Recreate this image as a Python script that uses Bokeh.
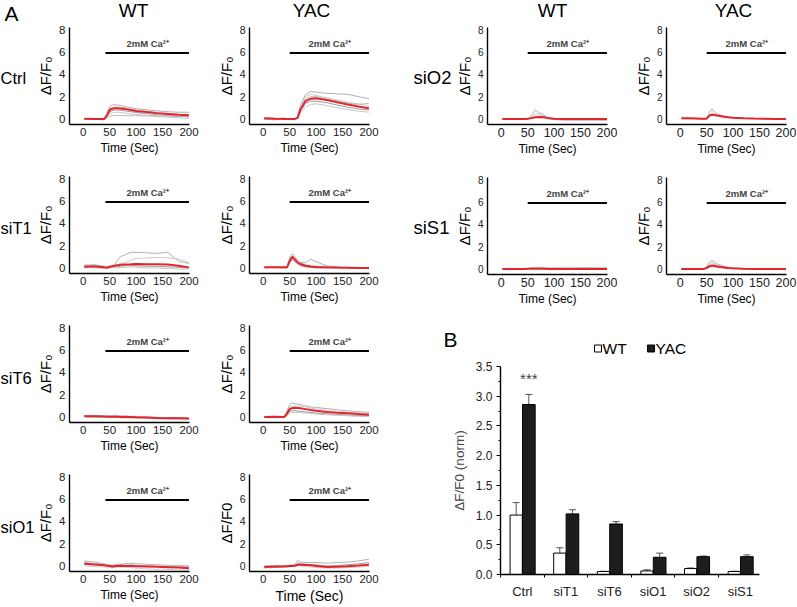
from bokeh.plotting import figure
from bokeh.models import (Range1d, FixedTicker, Label, ColumnDataSource, Whisker,
                          TeeHead, PrintfTickFormatter)
from bokeh.layouts import row, column
from bokeh.embed import file_html
from bokeh.resources import INLINE

FONT = "Liberation Sans"

# ---------------- data: Ca2+ imaging traces (dF/F0 vs time, s) ----------------
time_s = [2, 20, 40, 45, 50, 55, 60, 65, 70, 80, 90, 100, 120, 140, 160, 180, 200]
x_ticks = [0, 50, 100, 150, 200]
y_ticks = [0, 2, 4, 6, 8]
ca_label = "2mM Ca²⁺"
row_names = ["Ctrl", "siT1", "siT6", "siO1", "siO2", "siS1"]
col_names = ["WT", "YAC"]

ctrl_wt_ca = 42
ctrl_wt_mean = [0.02, 0.0, 0.0, 0.35, 0.8, 0.92, 0.95, 0.95, 0.93, 0.88, 0.8, 0.72, 0.62, 0.52, 0.45, 0.38, 0.33]
ctrl_wt_cells = [
    [0.05, 0.0, 0.0, 0.5, 1.1, 1.25, 1.28, 1.25, 1.2, 1.1, 1.0, 0.92, 0.82, 0.72, 0.65, 0.6, 0.6],
    [0.0, 0.05, 0.0, 0.4, 0.95, 1.05, 1.1, 1.08, 1.05, 0.98, 0.9, 0.8, 0.7, 0.6, 0.5, 0.42, 0.4],
    [0.0, -0.02, 0.0, 0.25, 0.6, 0.75, 0.8, 0.8, 0.78, 0.72, 0.65, 0.58, 0.48, 0.38, 0.3, 0.22, 0.2],
    [0.0, 0.0, 0.0, 0.15, 0.45, 0.55, 0.6, 0.6, 0.58, 0.52, 0.45, 0.4, 0.32, 0.22, 0.15, 0.1, 0.05],
    [0.0, 0.0, 0.0, 0.1, 0.25, 0.3, 0.3, 0.3, 0.3, 0.3, 0.3, 0.28, 0.28, 0.27, 0.27, 0.25, 0.25],
]

ctrl_yac_ca = 50
ctrl_yac_mean = [0.05, 0.02, 0.0, 0.0, 0.0, 0.0, 0.0, 0.1, 0.8, 1.6, 1.82, 1.85, 1.7, 1.5, 1.3, 1.12, 0.95]
ctrl_yac_cells = [
    [0.1, 0.05, 0.0, 0.0, 0.05, 0.0, 0.0, 0.2, 1.2, 2.2, 2.45, 2.4, 2.3, 2.25, 2.2, 2.0, 1.8],
    [0.0, 0.1, 0.05, 0.0, 0.0, 0.0, 0.05, 0.15, 1.0, 2.0, 2.2, 2.1, 1.9, 1.7, 1.5, 1.35, 1.2],
    [-0.05, 0.0, 0.0, 0.05, 0.0, 0.0, 0.0, 0.1, 0.7, 1.4, 1.6, 1.6, 1.45, 1.25, 1.05, 0.9, 0.8],
    [0.0, -0.1, 0.0, 0.0, 0.0, -0.05, 0.0, 0.05, 0.5, 1.1, 1.3, 1.35, 1.2, 1.0, 0.85, 0.7, 0.6],
    [0.05, 0.0, 0.1, 0.0, 0.0, 0.0, 0.0, 0.1, 0.9, 1.8, 2.0, 2.0, 1.8, 1.6, 1.4, 1.3, 1.4],
]

sit1_wt_ca = 42
sit1_wt_mean = [0.1, 0.15, 0.05, 0.02, 0.1, 0.15, 0.2, 0.25, 0.28, 0.3, 0.32, 0.35, 0.33, 0.32, 0.3, 0.2, 0.05]
sit1_wt_cells = [
    [0.2, 0.3, 0.15, 0.1, 0.15, 0.2, 0.3, 0.7, 1.0, 1.2, 1.4, 1.4, 1.35, 1.3, 1.4, 0.6, 0.4],
    [0.3, 0.25, 0.1, 0.05, 0.1, 0.2, 0.25, 0.3, 0.4, 0.5, 0.7, 0.85, 0.9, 0.95, 0.9, 0.8, 0.5],
    [0.0, 0.1, 0.0, 0.0, 0.05, 0.1, 0.1, 0.1, 0.15, 0.2, 0.2, 0.2, 0.15, 0.15, 0.1, 0.05, 0.0],
    [0.1, 0.0, -0.05, 0.0, 0.0, 0.0, 0.05, 0.0, 0.05, 0.05, 0.1, 0.05, 0.0, 0.0, -0.05, -0.1, -0.1],
]

sit1_yac_ca = 50
sit1_yac_mean = [0.05, 0.05, 0.05, 0.05, 0.6, 1.0, 0.75, 0.5, 0.35, 0.2, 0.12, 0.08, 0.05, 0.03, 0.02, 0.0, 0.0]
sit1_yac_cells = [
    [0.05, 0.05, 0.05, 0.05, 1.0, 1.3, 1.0, 0.7, 0.5, 0.45, 0.8, 0.55, 0.2, 0.1, 0.05, 0.05, 0.0],
    [0.05, 0.0, 0.05, 0.05, 0.8, 1.1, 0.85, 0.6, 0.45, 0.3, 0.2, 0.15, 0.1, 0.05, 0.05, 0.0, 0.0],
    [0.0, 0.05, 0.0, 0.0, 0.5, 0.75, 0.55, 0.35, 0.2, 0.1, 0.05, 0.0, 0.0, 0.0, 0.0, 0.0, -0.05],
]

sit6_wt_ca = 42
sit6_wt_mean = [0.05, 0.05, 0.03, 0.02, 0.02, 0.02, 0.02, 0.02, 0.0, 0.0, 0.0, -0.02, -0.05, -0.1, -0.12, -0.13, -0.15]
sit6_wt_cells = [
    [0.1, 0.15, 0.1, 0.1, 0.1, 0.12, 0.15, 0.1, 0.1, 0.1, 0.05, 0.05, 0.0, -0.05, -0.05, -0.05, -0.08],
    [0.0, -0.05, -0.05, -0.05, -0.05, -0.05, -0.05, -0.05, -0.08, -0.1, -0.1, -0.12, -0.15, -0.18, -0.2, -0.2, -0.22],
]

sit6_yac_ca = 50
sit6_yac_mean = [0.0, 0.02, 0.0, 0.3, 0.7, 0.8, 0.82, 0.8, 0.78, 0.7, 0.62, 0.55, 0.45, 0.38, 0.32, 0.26, 0.2]
sit6_yac_cells = [
    [0.0, 0.05, 0.0, 0.6, 1.1, 1.25, 1.2, 1.15, 1.1, 1.0, 0.9, 0.85, 0.75, 0.65, 0.55, 0.48, 0.4],
    [0.0, 0.0, 0.0, 0.4, 0.9, 1.0, 1.0, 0.98, 0.95, 0.88, 0.8, 0.72, 0.6, 0.5, 0.42, 0.35, 0.3],
    [0.0, 0.0, 0.0, 0.2, 0.5, 0.55, 0.55, 0.52, 0.5, 0.45, 0.4, 0.35, 0.28, 0.22, 0.18, 0.12, 0.1],
    [0.0, 0.0, 0.0, 0.1, 0.35, 0.4, 0.42, 0.4, 0.38, 0.35, 0.3, 0.25, 0.2, 0.15, 0.1, 0.05, 0.02],
]

sio1_wt_ca = 42
sio1_wt_mean = [0.2, 0.12, 0.05, 0.02, 0.0, -0.05, -0.02, 0.0, 0.02, 0.0, 0.0, -0.02, -0.05, -0.08, -0.12, -0.15, -0.2]
sio1_wt_cells = [
    [0.45, 0.35, 0.2, 0.15, 0.1, 0.05, 0.1, 0.15, 0.15, 0.2, 0.25, 0.2, 0.15, 0.1, 0.05, 0.05, 0.0],
    [0.0, -0.05, -0.1, -0.1, -0.15, -0.15, -0.1, -0.1, -0.1, -0.12, -0.15, -0.2, -0.25, -0.3, -0.3, -0.35, -0.38],
    [0.3, 0.2, 0.1, 0.05, 0.05, 0.0, 0.05, 0.05, 0.1, 0.05, 0.1, 0.05, 0.0, -0.05, -0.05, -0.1, -0.1],
]

sio1_yac_ca = 50
sio1_yac_mean = [-0.1, -0.08, -0.05, -0.03, 0.0, 0.0, 0.02, 0.1, 0.1, 0.08, 0.05, 0.0, -0.1, -0.08, -0.02, 0.03, 0.1]
sio1_yac_cells = [
    [0.0, 0.05, 0.05, 0.05, 0.05, 0.1, 0.1, 0.5, 0.35, 0.3, 0.3, 0.3, 0.25, 0.3, 0.35, 0.45, 0.6],
    [-0.2, -0.15, -0.1, -0.1, -0.1, -0.05, -0.05, 0.0, 0.0, -0.05, -0.1, -0.15, -0.2, -0.2, -0.15, -0.1, -0.05],
    [-0.05, 0.0, 0.0, 0.0, 0.05, 0.05, 0.05, 0.2, 0.2, 0.15, 0.1, 0.1, 0.0, 0.05, 0.1, 0.2, 0.3],
]

sio2_wt_ca = 50
sio2_wt_mean = [0.0, 0.0, 0.0, 0.0, 0.02, 0.05, 0.1, 0.15, 0.18, 0.15, 0.05, 0.02, 0.0, 0.0, 0.0, 0.0, 0.0]
sio2_wt_cells = [
    [0.0, 0.0, 0.0, 0.0, 0.05, 0.2, 0.5, 0.8, 0.6, 0.35, 0.1, 0.0, 0.0, 0.0, 0.0, 0.0, 0.0],
    [0.0, 0.0, 0.0, 0.0, 0.05, 0.1, 0.3, 0.45, 0.45, 0.3, 0.1, 0.0, -0.05, -0.05, -0.05, -0.05, -0.05],
    [0.0, 0.0, 0.0, 0.0, 0.0, 0.05, 0.1, 0.2, 0.25, 0.2, 0.05, -0.05, -0.1, -0.1, -0.1, -0.1, -0.1],
]

sio2_yac_ca = 50
sio2_yac_mean = [0.05, 0.05, 0.02, 0.02, 0.02, 0.3, 0.4, 0.35, 0.3, 0.22, 0.15, 0.1, 0.05, 0.03, 0.02, 0.0, 0.0]
sio2_yac_cells = [
    [0.05, 0.05, 0.02, 0.02, 0.05, 0.6, 0.9, 0.6, 0.45, 0.3, 0.2, 0.12, 0.05, 0.03, 0.02, 0.0, 0.0],
    [0.0, 0.0, 0.0, 0.0, 0.0, 0.2, 0.3, 0.28, 0.25, 0.2, 0.12, 0.08, 0.03, 0.02, 0.0, 0.0, 0.0],
]

sis1_wt_ca = 50
sis1_wt_mean = [0.0, 0.0, 0.0, 0.0, 0.02, 0.02, 0.02, 0.02, 0.02, 0.02, 0.0, 0.0, 0.0, 0.0, 0.0, 0.0, 0.0]
sis1_wt_cells = [
    [0.0, 0.0, 0.0, 0.02, 0.05, 0.1, 0.12, 0.15, 0.15, 0.12, 0.1, 0.1, 0.1, 0.1, 0.12, 0.1, 0.1],
    [0.0, 0.0, 0.0, 0.0, 0.0, 0.05, 0.05, 0.05, 0.05, 0.05, 0.05, 0.05, 0.05, 0.05, 0.05, 0.05, 0.05],
]

sis1_yac_ca = 50
sis1_yac_mean = [0.0, 0.0, 0.0, 0.0, 0.1, 0.25, 0.3, 0.28, 0.22, 0.15, 0.08, 0.05, 0.02, 0.0, 0.0, 0.0, 0.0]
sis1_yac_cells = [
    [0.0, 0.0, 0.0, 0.0, 0.2, 0.6, 0.75, 0.6, 0.45, 0.3, 0.15, 0.08, 0.03, 0.0, 0.0, 0.0, 0.0],
    [0.0, 0.0, 0.0, 0.0, 0.1, 0.4, 0.5, 0.45, 0.35, 0.22, 0.12, 0.05, 0.02, 0.0, 0.0, 0.0, 0.0],
    [0.0, 0.0, 0.0, 0.0, 0.05, 0.15, 0.2, 0.18, 0.15, 0.1, 0.05, 0.02, 0.0, 0.0, 0.0, 0.0, 0.0],
]

# ---------------- data: summary bar chart ----------------
categories = ["Ctrl", "siT1", "siT6", "siO1", "siO2", "siS1"]
wt_norm = [1.0, 0.36, 0.05, 0.06, 0.10, 0.05]
wt_sem = [0.21, 0.09, 0.005, 0.02, 0.01, 0.005]
yac_norm = [2.86, 1.02, 0.85, 0.29, 0.30, 0.30]
yac_sem = [0.17, 0.07, 0.04, 0.07, 0.01, 0.03]
bar_ticks = [0.0, 0.5, 1.0, 1.5, 2.0, 2.5, 3.0, 3.5]

# ---------------- styling ----------------
COLS = {
    "LW": dict(bl=30, br=10, ytick="11.5px", xtick="11.5px"),
    "LY": dict(bl=50, br=10, ytick="10.5px", xtick="11.5px"),
    "RW": dict(bl=33, br=10, ytick="10px", xtick="12.5px"),
    "RY": dict(bl=49, br=10, ytick="10px", xtick="12.5px"),
}
ROWS = {1: dict(bt=5, bb=33), 2: dict(bt=19, bb=33), 3: dict(bt=19, bb=33), 4: dict(bt=19, bb=34)}
GREYS = ["#a8a8a8", "#c8c8c8", "#8e8e8e", "#c0c0c0", "#b4b4b4"]
WT_FILL = "white"
YAC_FILL = "#1d1d1d"


def strip(width, height):
    s = figure(width=width, height=height, x_range=Range1d(0, width), y_range=Range1d(0, height),
               output_backend="svg", toolbar_location=None, min_border=0,
               x_axis_location=None, y_axis_location=None, outline_line_color=None)
    s.xgrid.visible = False
    s.ygrid.visible = False
    return s


def txt(p, x, y, text, size, align="left", **kw):
    p.add_layout(Label(x=x, y=y, text=text, text_font=FONT, text_font_size=size,
                       text_color="black", text_align=align, text_baseline="middle", **kw))


def panel(col, rw, mean, cells, ca_start, ylab="ΔF/F₀", xlab_size="12px"):
    c = COLS[col]
    r = ROWS[rw]
    p = figure(frame_width=120, frame_height=97, x_range=Range1d(-26, 201), y_range=Range1d(-0.5, 8.2),
               output_backend="svg", toolbar_location=None,
               min_border_left=c["bl"], min_border_right=c["br"],
               min_border_top=r["bt"], min_border_bottom=r["bb"], outline_line_color=None)
    p.xgrid.visible = False
    p.ygrid.visible = False
    p.xaxis.ticker = FixedTicker(ticks=x_ticks)
    p.yaxis.ticker = FixedTicker(ticks=y_ticks)
    for ax, fs in ((p.xaxis[0], c["xtick"]), (p.yaxis[0], c["ytick"])):
        ax.axis_line_width = 1.4
        ax.axis_line_color = "black"
        ax.major_tick_out = 0
        ax.major_tick_in = 0
        ax.minor_tick_out = 0
        ax.minor_tick_in = 0
        ax.major_label_text_font = FONT
        ax.major_label_text_font_size = fs
        ax.major_label_text_color = "#222222"
        ax.axis_label_text_font = FONT
        ax.axis_label_text_font_style = "normal"
        ax.axis_label_text_color = "black"
    p.xaxis.major_label_standoff = 3
    p.yaxis.major_label_standoff = 4
    p.xaxis.axis_label = "Time (Sec)"
    p.xaxis.axis_label_text_font_size = xlab_size
    p.xaxis.axis_label_standoff = 2
    p.yaxis.axis_label = ylab
    p.yaxis.axis_label_text_font_size = "15px"
    p.yaxis.axis_label_standoff = 2

    p.multi_line(xs=[time_s] * len(cells), ys=cells,
                 line_color=GREYS[:len(cells)], line_width=1, line_alpha=0.9)
    p.line(time_s, mean, line_color="#e3262e", line_width=2)

    p.segment(x0=[ca_start], y0=[5.92], x1=[x_ticks[-1]], y1=[5.92], line_color="black", line_width=2)
    p.add_layout(Label(x=(ca_start + x_ticks[-1]) / 2 + 1, y=6.75, text=ca_label,
                       text_font=FONT, text_font_size="9.5px", text_font_style="bold",
                       text_align="center", text_baseline="middle"))
    return p


# ---------------- left block ----------------
p11 = panel("LW", 1, ctrl_wt_mean, ctrl_wt_cells, ctrl_wt_ca)
p12 = panel("LY", 1, ctrl_yac_mean, ctrl_yac_cells, ctrl_yac_ca)
p21 = panel("LW", 2, sit1_wt_mean, sit1_wt_cells, sit1_wt_ca)
p22 = panel("LY", 2, sit1_yac_mean, sit1_yac_cells, sit1_yac_ca)
p31 = panel("LW", 3, sit6_wt_mean, sit6_wt_cells, sit6_wt_ca)
p32 = panel("LY", 3, sit6_yac_mean, sit6_yac_cells, sit6_yac_ca)
p41 = panel("LW", 4, sio1_wt_mean, sio1_wt_cells, sio1_wt_ca)
p42 = panel("LY", 4, sio1_yac_mean, sio1_yac_cells, sio1_yac_ca, ylab="ΔF/F0", xlab_size="14px")

strip_l = strip(34, 605)
txt(strip_l, 4, 592, "A", "21px")
for name, yy in zip(row_names[:4], [528, 378, 228, 79]):
    txt(strip_l, 0, yy, name, "16.5px")

titles_l = strip(346, 22)
txt(titles_l, 99, 12, col_names[0], "19px", align="center")
txt(titles_l, 277, 12, col_names[1], "19px", align="center")

# ---------------- right block ----------------
q11 = panel("RW", 1, sio2_wt_mean, sio2_wt_cells, sio2_wt_ca)
q12 = panel("RY", 1, sio2_yac_mean, sio2_yac_cells, sio2_yac_ca)
q21 = panel("RW", 2, sis1_wt_mean, sis1_wt_cells, sis1_wt_ca)
q22 = panel("RY", 2, sis1_yac_mean, sis1_yac_cells, sis1_yac_ca)

strip_r = strip(72, 284)
txt(strip_r, 33, 229, row_names[4], "18.5px")
txt(strip_r, 33, 79, row_names[5], "18.5px")

titles_r = strip(414, 22)
txt(titles_r, 172, 12, col_names[0], "19px", align="center")
txt(titles_r, 353, 12, col_names[1], "19px", align="center")

# ---------------- bar chart header: panel letter + legend keys ----------------
bar_head = strip(414, 49)
txt(bar_head, 63, 18, "B", "21px")
bar_head.scatter(x=[217.5, 270.5], y=[9, 9], marker="square", size=7,
                 fill_color=[WT_FILL, YAC_FILL], line_color="black", line_width=1)
txt(bar_head, 222, 9, col_names[0], "15.5px")
txt(bar_head, 275, 9, col_names[1], "15.5px")

# ---------------- bar chart ----------------
pos = list(range(len(categories)))
wt_x = [i - 0.14 for i in pos]
yac_x = [i + 0.15 for i in pos]

pb = figure(frame_width=259, frame_height=208, x_range=Range1d(-0.5, 5.44), y_range=Range1d(0, 3.5),
            output_backend="svg", toolbar_location=None,
            min_border_left=120, min_border_right=35, min_border_top=9, min_border_bottom=30,
            outline_line_color=None)
pb.xgrid.visible = False
pb.ygrid.visible = False
pb.vbar(x=wt_x, top=wt_norm, width=0.28, fill_color=WT_FILL, line_color="black", line_width=1)
pb.vbar(x=yac_x, top=yac_norm, width=0.29, fill_color=YAC_FILL, line_color="black", line_width=1)

src_wt = ColumnDataSource(dict(x=wt_x, up=[v + e for v, e in zip(wt_norm, wt_sem)],
                               lo=[v - e for v, e in zip(wt_norm, wt_sem)]))
src_yac = ColumnDataSource(dict(x=yac_x, up=[v + e for v, e in zip(yac_norm, yac_sem)],
                                lo=yac_norm))
pb.add_layout(Whisker(source=src_wt, base="x", upper="up", lower="lo", dimension="height",
                      line_color="#555555", line_width=1,
                      upper_head=TeeHead(size=7, line_color="#555555", line_width=1),
                      lower_head=TeeHead(size=7, line_color="#555555", line_width=1)))
pb.add_layout(Whisker(source=src_yac, base="x", upper="up", lower="lo", dimension="height",
                      line_color="#555555", line_width=1,
                      upper_head=TeeHead(size=7, line_color="#555555", line_width=1),
                      lower_head=None))

pb.yaxis.ticker = FixedTicker(ticks=bar_ticks, minor_ticks=[t + 0.25 for t in bar_ticks[:-1]])
pb.yaxis.formatter = PrintfTickFormatter(format="%.1f")
pb.xaxis.ticker = FixedTicker(ticks=pos, minor_ticks=[i - 0.5 for i in pos] + [pos[-1] + 0.5])
pb.xaxis.major_label_overrides = {i: c for i, c in zip(pos, categories)}
for ax in (pb.xaxis[0], pb.yaxis[0]):
    ax.axis_line_width = 1.4
    ax.axis_line_color = "black"
    ax.major_label_text_font = FONT
    ax.major_label_text_color = "#222222"
    ax.major_tick_in = 0
    ax.minor_tick_in = 0
pb.yaxis.major_tick_out = 4
pb.yaxis.minor_tick_out = 2
pb.yaxis.major_label_text_font_size = "12px"
pb.yaxis.major_label_standoff = 4
pb.yaxis.axis_label = "ΔF/F0 (norm)"
pb.yaxis.axis_label_text_font = FONT
pb.yaxis.axis_label_text_font_size = "13.5px"
pb.yaxis.axis_label_text_font_style = "normal"
pb.yaxis.axis_label_standoff = 6
pb.xaxis.major_tick_out = 0
pb.xaxis.minor_tick_out = 3
pb.xaxis.major_label_text_font_size = "13px"
pb.xaxis.major_label_standoff = 6

pb.add_layout(Label(x=yac_x[0], y=3.3, text="***", text_font=FONT, text_font_size="15px",
                    text_align="center", text_baseline="middle"))

# ---------------- assemble ----------------
left = row(strip_l, column(titles_l, row(p11, p12), row(p21, p22), row(p31, p32), row(p41, p42)))
right = column(titles_r, row(strip_r, column(row(q11, q12), row(q21, q22))), row(bar_head), row(pb))
layout = row(left, right)

open("out.html", "w").write(file_html(layout, INLINE))
